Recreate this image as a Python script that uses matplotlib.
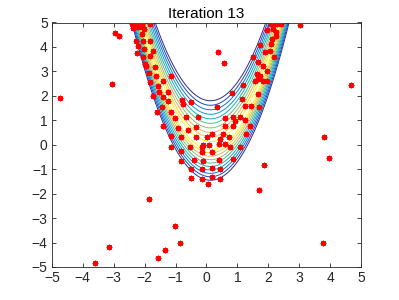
import numpy as np
import matplotlib
matplotlib.use("Agg")
import matplotlib.pyplot as plt
from matplotlib.colors import LinearSegmentedColormap

plt.rcParams['font.family'] = ['Liberation Sans', 'DejaVu Sans']

# Punkte (Iteration 13)
pts_x = [
    # ausserhalb des Bandes
    -4.74, -3.04, -2.96, -2.82, -1.86, -3.15, -3.60, -1.56, -1.33, -1.02, -0.86,
    1.85, 1.70, 3.95, 3.77, 4.68, 3.79, 3.03, 0.38, 0.58,
    # linker Ast
    -2.42, -2.28, -2.15, -2.08, -1.83, -2.23, -2.10, -2.37, -2.01, -2.10,
    -2.29, -2.06, -2.23, -1.83, -2.01, -1.72, -2.26, -1.83, -2.05, -1.99,
    -1.94, -1.67, -1.85, -1.63, -1.83, -1.42, -1.16, -1.56, -1.53, -1.24,
    -1.72, -1.42, -1.26, -0.80, -0.51, -1.45, -0.75,
    # rechter Ast
    2.08, 2.18, 2.29, 2.41, 1.95, 2.14, 2.25, 2.24, 2.11, 2.09,
    1.73, 2.06, 1.89, 2.18, 1.52, 1.68, 1.84, 1.95, 1.62, 1.73,
    1.68, 1.84, 1.95, 1.57, 1.19, 0.84, 1.14, 1.25, 1.43, 1.71,
    0.33, 1.68,
    # Talboden
    -1.59, -1.16, -1.02, -0.66, -0.27, 0.60, 0.85, 1.08, 1.25, 0.92,
    -1.42, -0.91, -0.34, 0.60, 0.85, 1.41, -0.59, 0.17, 0.54, 1.28,
    -1.16, -0.83, -0.34, 0.01, 0.44, 0.74, 0.41, 0.60, -0.12, 0.09,
    -1.16, -0.53, -0.16, 0.76, 1.08, -0.83, -0.16, 0.17, -0.40, -0.10,
    -0.83, 0.41, 0.85, -0.51, -0.16, 0.17, 0.44, -0.50, -0.16, 0.17,
    0.44, 0.06,
]
pts_y = [
    1.91, 2.50, 4.58, 4.45, -2.23, -4.18, -4.85, -4.64, -4.32, -3.32, -4.02,
    -0.82, -1.86, -0.55, -4.00, 2.46, 0.30, 4.90, 3.78, 3.35,
    4.95, 4.95, 4.92, 4.95, 4.95, 4.81, 4.81, 4.78, 4.74, 4.51,
    4.26, 4.23, 4.03, 4.23, 3.92, 3.85, 3.74, 3.65, 3.58, 3.31,
    3.24, 3.17, 2.92, 2.83, 2.58, 2.62, 2.81, 2.42, 2.17, 2.17,
    2.01, 1.97, 1.80, 1.83, 1.73, 1.53, 1.67,
    4.95, 4.95, 4.95, 4.95, 4.70, 4.74, 4.60, 4.43, 4.33, 4.13,
    4.09, 3.85, 3.78, 3.58, 3.58, 3.37, 3.24, 3.03, 2.90, 2.83,
    2.69, 2.62, 2.62, 2.62, 2.46, 2.10, 1.87, 1.60, 1.57, 1.53,
    1.53, 2.08,
    1.32, 1.32, 1.09, 1.15, 1.15, 1.09, 1.15, 1.15, 1.01, 0.96,
    0.78, 0.68, 0.74, 0.78, 0.78, 0.78, 0.60, 0.46, 0.46, 0.46,
    0.37, 0.33, 0.33, 0.30, 0.23, 0.30, 0.05, 0.05, 0.00, 0.00,
    -0.08, -0.11, -0.08, -0.11, -0.08, -0.25, -0.29, -0.31, -0.63, -0.66,
    -0.66, -0.63, -0.59, -1.00, -1.00, -0.96, -1.00, -1.37, -1.41, -1.31,
    -1.41, -1.61,
]

# Banane: Tal entlang y = (x - 0.13)^2 - 0.05
x_shift = 0.13
y_shift = -0.05
w_up = 1.85
w_down = 1.4
levels = np.linspace(-1.0, -0.1, 10)

gx = np.linspace(-5, 5, 400)
gy = np.linspace(-5, 5, 400)
X, Y = np.meshgrid(gx, gy)
U = Y - (X - x_shift)**2 - y_shift
F = np.where(U > 0, -U / w_up, U / w_down)

# parula-artige Farbskala
parula = LinearSegmentedColormap.from_list("parula", [
    (0.00, (0.2081, 0.1663, 0.5292)),
    (0.17, (0.0592, 0.3599, 0.8684)),
    (0.25, (0.0780, 0.5040, 0.8384)),
    (0.36, (0.0232, 0.6419, 0.7914)),
    (0.50, (0.1802, 0.7178, 0.6425)),
    (0.60, (0.4420, 0.7481, 0.5033)),
    (0.75, (0.7525, 0.7384, 0.3768)),
    (0.85, (0.9956, 0.7434, 0.2371)),
    (1.00, (0.9763, 0.9831, 0.0538)),
])

fig = plt.figure(figsize=(3.99, 3.0), dpi=100)
ax = fig.add_axes([0.13, 0.11, 0.775, 0.815])

ax.contour(X, Y, F, levels=levels, cmap=parula, linewidths=0.7)
ax.plot(pts_x, pts_y, linestyle='none', marker=(8, 2, 0), color='red',
        markersize=4.0, markeredgewidth=0.9, zorder=5)

ax.set_xlim(-5, 5)
ax.set_ylim(-5, 5)
ax.set_xticks(np.arange(-5, 6, 1))
ax.set_yticks(np.arange(-5, 6, 1))
ax.tick_params(direction='in', length=3, width=0.6, colors='#262626',
               labelsize=10, top=True, right=True, pad=3)
for s in ax.spines.values():
    s.set_linewidth(0.6)
    s.set_color('#262626')
ax.set_title("Iteration 13", fontsize=11, pad=3, color='black')

fig.savefig("out.png", dpi=100)
